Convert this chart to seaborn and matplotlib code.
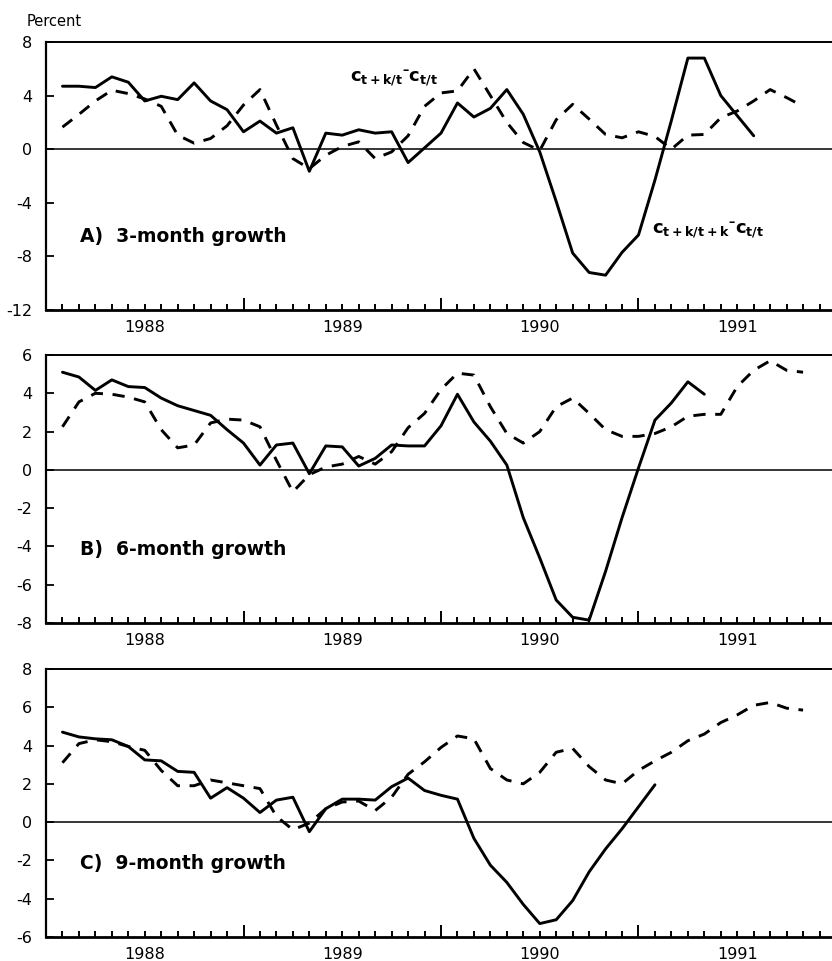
import numpy as np
import pandas as pd
import matplotlib
matplotlib.use("Agg")
import matplotlib.pyplot as plt
import seaborn as sns

# Monthly series, first observation February 1988
START = "1988-02"

# A) 3-month growth
a_realized = [4.7, 4.7, 4.6, 5.4, 5.0, 3.6, 3.95, 3.7, 4.95, 3.6,
              2.95, 1.3, 2.1, 1.2, 1.6, -1.65, 1.2, 1.05, 1.45, 1.2,
              1.3, -1.0, 0.1, 1.2, 3.45, 2.4, 3.05, 4.45, 2.6, -0.2,
              -3.9, -7.75, -9.2, -9.4, -7.7, -6.4, -2.3, 2.15, 6.8, 6.8,
              4.0, 2.5, 1.0]
a_forecast = [1.65, 2.6, 3.6, 4.4, 4.15, 3.75, 3.2, 1.05, 0.45, 0.8,
              1.75, 3.3, 4.45, 1.8, -0.7, -1.45, -0.45, 0.2, 0.55, -0.7,
              -0.2, 1.0, 3.2, 4.2, 4.35, 6.0, 4.0, 2.0, 0.5, -0.1,
              2.2, 3.35, 2.25, 1.1, 0.85, 1.3, 0.95, 0.0, 1.05, 1.1,
              2.35, 2.85, 3.6, 4.45, 3.85, 3.2]

# B) 6-month growth
b_realized = [5.1, 4.85, 4.15, 4.7, 4.35, 4.3, 3.75, 3.35, 3.1, 2.85,
              2.1, 1.4, 0.25, 1.3, 1.4, -0.2, 1.25, 1.2, 0.2, 0.6,
              1.3, 1.25, 1.25, 2.3, 3.95, 2.5, 1.5, 0.25, -2.5, -4.6,
              -6.8, -7.7, -7.85, -5.3, -2.5, 0.1, 2.6, 3.5, 4.6, 3.95]
b_forecast = [2.25, 3.55, 4.0, 3.95, 3.8, 3.55, 2.1, 1.15, 1.3, 2.45,
              2.65, 2.6, 2.25, 0.5, -1.15, -0.25, 0.15, 0.3, 0.7, 0.3,
              0.95, 2.2, 2.95, 4.2, 5.05, 4.95, 3.3, 1.9, 1.4, 2.0,
              3.3, 3.75, 2.95, 2.1, 1.75, 1.75, 1.9, 2.25, 2.8, 2.9,
              2.9, 4.35, 5.2, 5.7, 5.2, 5.1]

# C) 9-month growth
c_realized = [4.7, 4.45, 4.35, 4.3, 3.95, 3.25, 3.2, 2.65, 2.6, 1.25,
              1.8, 1.25, 0.5, 1.15, 1.3, -0.5, 0.7, 1.2, 1.2, 1.15,
              1.85, 2.3, 1.65, 1.4, 1.2, -0.85, -2.25, -3.15, -4.3, -5.3,
              -5.1, -4.1, -2.6, -1.4, -0.35, 0.8, 1.95]
c_forecast = [3.1, 4.1, 4.3, 4.2, 3.95, 3.75, 2.7, 1.9, 1.9, 2.2,
              2.05, 1.9, 1.75, 0.3, -0.4, -0.05, 0.7, 1.05, 1.1, 0.6,
              1.3, 2.5, 3.15, 3.9, 4.5, 4.35, 2.8, 2.2, 2.0, 2.6,
              3.65, 3.85, 2.9, 2.2, 2.0, 2.7, 3.2, 3.65, 4.25, 4.6,
              5.2, 5.6, 6.1, 6.25, 5.95, 5.85]

panel_titles = ["A)  3-month growth", "B)  6-month growth", "C)  9-month growth"]
panel_yticks = [[-12, -8, -4, 0, 4, 8], [-8, -6, -4, -2, 0, 2, 4, 6], [-6, -4, -2, 0, 2, 4, 6, 8]]
year_labels = ["1988", "1989", "1990", "1991"]

sns.set_style("ticks")
plt.rcParams["font.family"] = ["DejaVu Sans"]
plt.rcParams["axes.unicode_minus"] = False
plt.rcParams["text.color"] = "black"
plt.rcParams["xtick.color"] = "black"
plt.rcParams["ytick.color"] = "black"
plt.rcParams["mathtext.fontset"] = "custom"
plt.rcParams["mathtext.rm"] = "DejaVu Sans:bold"
plt.rcParams["mathtext.it"] = "DejaVu Sans:bold"
plt.rcParams["mathtext.bf"] = "DejaVu Sans:bold"

base = pd.Period("1988-01", freq="M")


def months_since_1988(n):
    per = pd.period_range(START, periods=n, freq="M")
    return np.array([(p - base).n for p in per], dtype=float)


def long_frame(realized, forecast):
    return pd.concat([
        pd.DataFrame({"month": months_since_1988(len(realized)), "value": realized, "series": "realized"}),
        pd.DataFrame({"month": months_since_1988(len(forecast)), "value": forecast, "series": "forecast"}),
    ], ignore_index=True)


frames = [long_frame(a_realized, a_forecast),
          long_frame(b_realized, b_forecast),
          long_frame(c_realized, c_forecast)]

fig = plt.figure(figsize=(8.32, 9.61), dpi=100)
left, width, height = 0.0553, 0.9495, 0.2789
bottoms = [0.6774, 0.3517, 0.025]

n_months = 48
month_ticks = np.arange(1, n_months)
minor_labels = [year_labels[(m - 6) // 12] if (m % 12 == 6) else "" for m in month_ticks]

axes = []
for i, df in enumerate(frames):
    ax = fig.add_axes([left, bottoms[i], width, height])
    axes.append(ax)
    sns.lineplot(data=df, x="month", y="value", style="series",
                 style_order=["realized", "forecast"],
                 dashes={"realized": "", "forecast": (4.2, 3.3)},
                 color="black", linewidth=2.1, estimator=None,
                 legend=False, ax=ax)
    ax.axhline(0, color="black", linewidth=1.1, zorder=1)

    yt = panel_yticks[i]
    ax.set_ylim(yt[0], yt[-1])
    ax.set_yticks(yt)
    ax.set_xlim(0, n_months)
    ax.set_xticks([12, 24, 36])
    ax.set_xticklabels([])
    ax.set_xticks(month_ticks, labels=minor_labels, minor=True)

    ax.set_xlabel("")
    ax.set_ylabel("")
    ax.tick_params(axis="y", direction="in", length=6, width=1.3, pad=10,
                   labelsize=11.5, colors="black")
    ax.tick_params(axis="x", which="major", direction="in", length=9, width=1.4)
    ax.tick_params(axis="x", which="minor", direction="in", length=4.5, width=1.4,
                   pad=7, labelsize=11.5)
    for s in ["top", "left", "bottom"]:
        ax.spines[s].set_color("black")
    ax.spines["top"].set_linewidth(1.4)
    ax.spines["left"].set_linewidth(1.6)
    ax.spines["bottom"].set_linewidth(2.0)
    ax.spines["right"].set_visible(False)

    ax.text(0.043, 0.255, panel_titles[i], transform=ax.transAxes,
            fontsize=13.5, fontweight="bold", ha="left", va="baseline",
            color="black")

# Series labels in panel A
dash = "\u2013"
axes[0].text(18.5, 5.0, "$c_{t+k/t}{}^{" + dash + "}c_{t/t}$", fontsize=13,
             ha="left", va="baseline", color="black")
axes[0].text(36.85, -6.35, "$c_{t+k/t+k}{}^{" + dash + "}c_{t/t}$", fontsize=13,
             ha="left", va="baseline", color="black")

fig.text(0.0325, 0.973, "Percent", fontsize=10.5, ha="left", va="baseline",
         color="black")

fig.savefig("out.png", dpi=100, facecolor="white")
